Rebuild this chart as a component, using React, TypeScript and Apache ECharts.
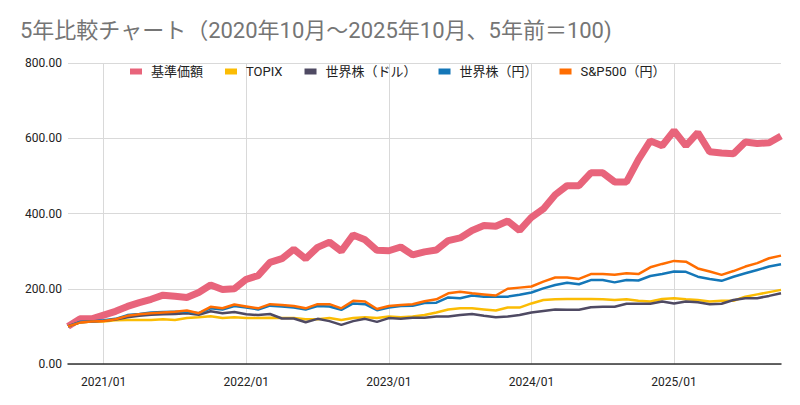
import React, { useEffect, useRef } from "react";
import * as echarts from "echarts";

const TITLE = "5年比較チャート（2020年10月～2025年10月、5年前＝100)";

const months: string[] = [];
for (let y = 2020; y <= 2025; y++) {
  for (let m = 1; m <= 12; m++) {
    if ((y === 2020 && m < 10) || (y === 2025 && m > 10)) continue;
    months.push(`${y}/${m < 10 ? "0" + m : m}`);
  }
}

const seriesNames = ["基準価額", "TOPIX", "世界株（ドル）", "世界株（円）", "S&P500（円）"];

const fundNav = [100,120,120,130,140,153,163,172,183,180,177,190,210,198,200,225,235,270,280,305,280,310,324,300,343,330,302,301,311,290,298,303,328,335,355,368,366,380,355,390,412,450,474,474,508,508,484,484,543,593,580,620,580,615,564,561,559,590,586,588,606];
const topix = [100,110,113,113,116,117,117,117,119,117,122,124,127,122,124,122,122,123,122,122,119,119,122,117,122,124,122,126,124,126,130,137,145,148,148,145,142,150,150,161,170,172,173,173,173,172,170,172,168,166,173,175,172,170,166,168,168,179,185,191,197];
const worldUsd = [100,111,113,115,118,124,128,131,132,133,135,131,140,135,138,132,130,133,121,121,111,120,114,104,114,120,112,122,120,123,123,126,126,130,133,128,124,126,130,137,141,145,144,144,151,152,152,160,160,160,166,161,166,164,159,160,170,175,175,181,188];
const worldJpy = [100,112,113,116,120,130,133,137,138,139,139,135,148,145,154,150,145,155,153,150,145,154,153,144,161,159,143,150,154,155,162,163,177,175,182,179,179,179,184,190,201,210,216,212,223,223,217,223,222,234,239,246,245,232,226,221,232,241,250,259,265];
const spJpy = [100,110,113,114,119,128,132,135,137,139,142,135,152,148,158,153,148,159,157,154,148,159,159,148,168,166,146,154,157,159,167,172,188,192,188,185,182,200,203,206,219,230,230,226,239,239,237,241,239,257,266,274,272,254,246,237,247,259,268,281,288];

const colors = ["#e8647b", "#fbbc04", "#4f4a63", "#1477b8", "#ff6d01"];
const widths = [7, 2.5, 2.5, 2.5, 2.5];
const dataSets = [fundNav, topix, worldUsd, worldJpy, spJpy];

const isJan = (i: number) => months[i] && months[i].endsWith("/01");

export default function App() {
  const ref = useRef<HTMLDivElement>(null);
  useEffect(() => {
    if (!ref.current) return;
    const chart = echarts.init(ref.current, null, { renderer: "svg" });
    const font = "Roboto, 'Noto Sans CJK JP', sans-serif";
    chart.setOption({
      animation: false,
      backgroundColor: "#ffffff",
      textStyle: { fontFamily: font },
      title: {
        text: TITLE,
        left: 15,
        top: 14,
        textStyle: { color: "#757575", fontSize: 22, fontWeight: "normal", fontFamily: font },
      },
      legend: {
        top: 60,
        left: 125,
        itemWidth: 12,
        itemHeight: 6,
        itemGap: 22,
        icon: "rect",
        textStyle: { color: "#222", fontSize: 13, fontFamily: font, padding: [0, 0, 0, 4] },
        data: seriesNames,
      },
      grid: { left: 68, right: 19, top: 63, bottom: 41 },
      xAxis: {
        type: "category",
        data: months,
        boundaryGap: false,
        axisLine: { show: true, lineStyle: { color: "#333", width: 1.5 } },
        axisTick: { show: false },
        axisLabel: {
          interval: (i: number) => isJan(i),
          color: "#222",
          fontSize: 12,
          margin: 12,
          fontFamily: font,
        },
        splitLine: {
          show: true,
          interval: (i: number) => isJan(i),
          lineStyle: { color: "#d9d9d9", width: 1 },
        },
      },
      yAxis: {
        type: "value",
        min: 0,
        max: 800,
        interval: 200,
        axisLine: { show: false },
        axisTick: { show: false },
        axisLabel: {
          formatter: (v: number) => v.toFixed(2),
          color: "#222",
          fontSize: 12,
          margin: 6,
          fontFamily: font,
        },
        splitLine: { lineStyle: { color: "#d9d9d9", width: 1 } },
      },
      series: seriesNames.map((name, k) => ({
        name,
        type: "line",
        data: dataSets[k],
        showSymbol: false,
        symbol: "none",
        lineStyle: { color: colors[k], width: widths[k] },
        itemStyle: { color: colors[k] },
        z: 2 + k,
      })),
    });
    return () => chart.dispose();
  }, []);
  return (
    <div
      ref={ref}
      style={{ position: "fixed", left: 0, top: 0, width: 800, height: 405 }}
    />
  );
}
